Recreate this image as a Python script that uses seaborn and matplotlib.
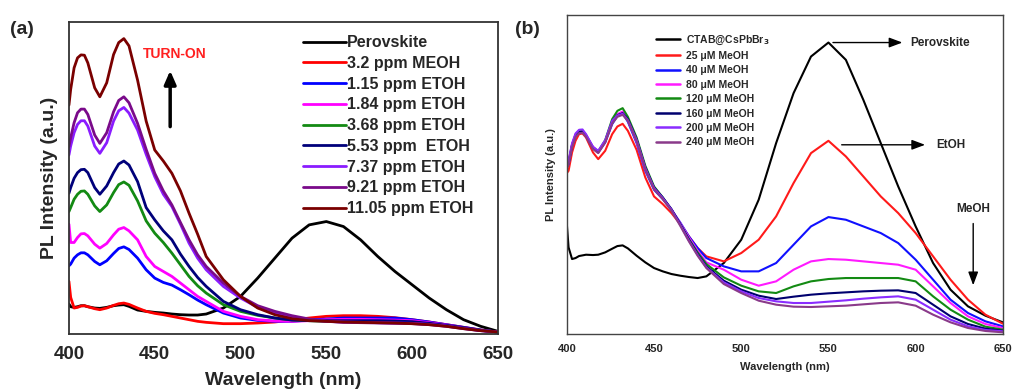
import numpy as np
import pandas as pd
import matplotlib
matplotlib.use("Agg")
import matplotlib.pyplot as plt
import seaborn as sns

# ---------------- data ----------------
wavelength = [400, 401, 403, 405, 407, 409, 411, 415, 418, 422, 426, 429, 432, 435, 440, 445, 450,
              455, 460, 465, 470, 475, 480, 490, 500, 510, 520, 530, 540, 550, 560, 570, 580, 590,
              600, 610, 620, 630, 640, 650]

# Panel (a)
a_labels = ["Perovskite", "3.2 ppm MEOH", "1.15 ppm ETOH", "1.84 ppm ETOH", "3.68 ppm ETOH",
            "5.53 ppm  ETOH", "7.37 ppm ETOH", "9.21 ppm ETOH", "11.05 ppm ETOH"]
a_colors = ["#000000", "#ff0000", "#0000ff", "#ff00ff", "#138a13", "#00007a", "#8a1cff",
            "#7a0a8a", "#7a0000"]
a_perovskite = [90, 82, 80, 82, 85, 85, 82, 78, 77, 80, 85, 87, 88, 83, 72, 68, 65, 63, 60, 58, 57,
                57, 60, 78, 113, 168, 228, 288, 328, 338, 323, 283, 233, 188, 148, 108, 73, 43, 23, 8]
a_meoh_3_2 = [158, 110, 78, 80, 84, 85, 82, 76, 73, 78, 86, 91, 93, 89, 78, 68, 62, 58, 53, 48, 43,
              38, 35, 31, 31, 33, 36, 42, 48, 53, 55, 55, 53, 49, 43, 36, 28, 20, 12, 6]
a_etoh_1_15 = [205, 210, 228, 238, 244, 244, 238, 218, 208, 220, 242, 257, 262, 254, 228, 193, 168,
               155, 147, 133, 118, 102, 88, 63, 48, 41, 38, 38, 42, 45, 48, 48, 48, 48, 43, 36, 28,
               20, 12, 6]
a_etoh_1_84 = [330, 275, 275, 290, 301, 302, 295, 270, 258, 272, 298, 315, 320, 310, 283, 233, 203,
               188, 173, 153, 133, 113, 98, 68, 53, 43, 39, 38, 40, 43, 44, 44, 43, 42, 40, 34, 27,
               19, 11, 6]
a_etoh_3_68 = [368, 380, 405, 420, 429, 430, 420, 385, 368, 388, 425, 449, 457, 447, 400, 340, 303,
               275, 243, 208, 173, 145, 123, 88, 68, 56, 48, 42, 40, 38, 37, 36, 36, 35, 34, 30, 25,
               18, 11, 6]
a_etoh_5_53 = [423, 440, 468, 485, 494, 495, 485, 440, 420, 445, 485, 511, 520, 508, 458, 380, 343,
               310, 283, 240, 203, 170, 143, 98, 73, 58, 48, 42, 40, 40, 40, 40, 40, 39, 37, 32, 26,
               19, 11, 6]
a_etoh_7_37 = [538, 565, 605, 630, 641, 641, 625, 565, 543, 575, 640, 671, 681, 664, 613, 540, 473,
               420, 383, 330, 273, 228, 193, 143, 108, 80, 63, 50, 42, 38, 36, 35, 34, 33, 32, 29, 24,
               17, 10, 6]
a_etoh_9_21 = [563, 590, 635, 665, 676, 676, 660, 598, 573, 605, 668, 702, 713, 695, 633, 555, 483,
               430, 388, 335, 283, 238, 203, 153, 113, 85, 68, 55, 45, 38, 35, 34, 33, 32, 31, 28, 23,
               16, 10, 6]
a_etoh_11_05 = [688, 735, 800, 830, 839, 838, 815, 740, 713, 755, 840, 876, 888, 866, 763, 640, 553,
                520, 483, 430, 363, 300, 233, 163, 113, 78, 58, 46, 40, 38, 36, 35, 34, 33, 31, 28,
                23, 16, 10, 6]

# Panel (b)
b_labels = ["CTAB@CsPbBr$_3$", "25 \u03bcM MeOH", "40 \u03bcM MeOH", "80 \u03bcM MeOH",
            "120 \u03bcM MeOH", "160 \u03bcM MeOH", "200 \u03bcM MeOH", "240 \u03bcM MeOH"]
b_colors = ["#000000", "#ff1a1a", "#1010ff", "#ff1aff", "#138a13", "#00006e", "#8a2cff", "#8a3a8a"]
b_ctab = [330, 260, 225, 228, 234, 236, 238, 237, 238, 245, 256, 264, 266, 257, 235, 215, 198, 188,
          180, 175, 171, 168, 173, 213, 283, 403, 573, 723, 833, 875, 823, 703, 573, 443, 323, 213,
          133, 83, 55, 35]
b_meoh_25 = [483, 490, 545, 580, 600, 602, 590, 545, 525, 550, 600, 623, 631, 610, 553, 470, 413, 390,
             363, 330, 293, 258, 233, 218, 243, 283, 353, 453, 543, 580, 533, 473, 413, 363, 303, 233,
             163, 103, 58, 31]
b_meoh_40 = [503, 510, 565, 595, 606, 607, 595, 560, 545, 575, 630, 655, 663, 637, 573, 490, 433, 405,
             373, 335, 293, 258, 228, 203, 188, 188, 213, 268, 323, 351, 343, 323, 303, 273, 223, 163,
             103, 63, 38, 23]
b_meoh_80 = [510, 520, 570, 600, 610, 611, 598, 562, 548, 578, 635, 660, 668, 642, 578, 495, 438, 408,
             373, 333, 290, 250, 215, 193, 163, 145, 158, 193, 218, 225, 223, 218, 213, 208, 193, 143,
             93, 53, 30, 18]
b_meoh_120 = [505, 515, 568, 598, 608, 609, 597, 560, 548, 582, 645, 670, 678, 652, 590, 505, 443, 410,
              373, 330, 285, 245, 210, 170, 145, 128, 123, 143, 158, 165, 168, 168, 168, 168, 158, 113,
              73, 43, 22, 13]
b_meoh_160 = [500, 512, 566, 596, 606, 607, 595, 558, 546, 578, 638, 657, 663, 645, 585, 500, 440, 410,
              375, 330, 283, 240, 203, 160, 133, 115, 105, 112, 118, 122, 125, 128, 130, 131, 123, 88,
              53, 30, 16, 10]
b_meoh_200 = [508, 520, 572, 602, 613, 614, 600, 562, 550, 582, 640, 656, 661, 642, 583, 498, 438, 408,
              373, 328, 280, 237, 200, 155, 128, 108, 98, 93, 93, 97, 101, 106, 110, 113, 103, 73, 43,
              23, 12, 8]
b_meoh_240 = [498, 508, 560, 592, 603, 604, 592, 555, 543, 575, 632, 652, 658, 640, 580, 495, 435, 405,
              370, 325, 278, 235, 198, 150, 123, 100, 88, 82, 81, 83, 85, 89, 93, 95, 85, 58, 35, 18,
              9, 5]

a_series = [a_perovskite, a_meoh_3_2, a_etoh_1_15, a_etoh_1_84, a_etoh_3_68, a_etoh_5_53,
            a_etoh_7_37, a_etoh_9_21, a_etoh_11_05]
b_series = [b_ctab, b_meoh_25, b_meoh_40, b_meoh_80, b_meoh_120, b_meoh_160, b_meoh_200, b_meoh_240]


def long_df(labels, series):
    rows = []
    for lab, ys in zip(labels, series):
        for x, y in zip(wavelength, ys):
            rows.append({"Wavelength": x, "PL": y, "Sample": lab})
    return pd.DataFrame(rows)


df_a = long_df(a_labels, a_series)
df_b = long_df(b_labels, b_series)

# ---------------- style ----------------
sns.set_style("white")
plt.rcParams['font.family'] = ['Liberation Sans', 'DejaVu Sans']
plt.rcParams['font.weight'] = 'bold'
plt.rcParams['mathtext.default'] = 'bf'
plt.rcParams['lines.solid_joinstyle'] = 'round'
plt.rcParams['lines.solid_capstyle'] = 'round'

fig = plt.figure(figsize=(10.14, 3.92), dpi=100)
ax_a = fig.add_axes([0.068, 0.148, 0.423, 0.796])
ax_b = fig.add_axes([0.559, 0.148, 0.430, 0.814])

# ---------------- panel (a) ----------------
sns.lineplot(data=df_a, x="Wavelength", y="PL", hue="Sample", hue_order=a_labels,
             palette=a_colors, sort=False, estimator=None, linewidth=2.0, ax=ax_a, legend=False)
ax_a.set_xlim(400, 650)
ax_a.set_ylim(0, 938)
ax_a.set_xticks([400, 450, 500, 550, 600, 650])
ax_a.set_yticks([])
ax_a.tick_params(axis='x', length=0, pad=9, labelsize=13.5)
for lab in ax_a.get_xticklabels():
    lab.set_fontweight('bold')
ax_a.set_xlabel("Wavelength (nm)", fontsize=14, fontweight='bold', labelpad=6)
ax_a.set_ylabel("PL Intensity (a.u.)", fontsize=14, fontweight='bold', labelpad=8)
for s in ax_a.spines.values():
    s.set_color('#333333')
    s.set_linewidth(1.3)

handles_a = [plt.Line2D([], [], color=c, lw=2.0) for c in a_colors]
leg_a = ax_a.legend(handles_a, a_labels, loc='upper left', bbox_to_anchor=(0.53, 0.978),
                    frameon=False, fontsize=11.5, handlelength=2.7, handletextpad=0.05,
                    labelspacing=0.36, borderaxespad=0)
for t in leg_a.get_texts():
    t.set_fontweight('bold')

ax_a.text(443, 843, "TURN-ON", color='#ff2020', fontsize=10, fontweight='bold', va='center')
ax_a.annotate("", xy=(459, 800), xytext=(459, 615),
              arrowprops=dict(arrowstyle='-|>,head_width=0.35,head_length=0.8', color='black', lw=2.5))
fig.text(0.010, 0.925, "(a)", fontsize=14, fontweight='bold', va='center')

# ---------------- panel (b) ----------------
sns.lineplot(data=df_b, x="Wavelength", y="PL", hue="Sample", hue_order=b_labels,
             palette=b_colors, sort=False, estimator=None, linewidth=1.5, ax=ax_b, legend=False)
ax_b.set_xlim(400, 650)
ax_b.set_ylim(0, 958)
ax_b.set_xticks([400, 450, 500, 550, 600, 650])
ax_b.set_yticks([])
ax_b.tick_params(axis='x', length=0, pad=7, labelsize=8)
for lab in ax_b.get_xticklabels():
    lab.set_fontweight('bold')
ax_b.set_xlabel("Wavelength (nm)", fontsize=8, fontweight='bold', labelpad=6)
ax_b.set_ylabel("PL Intensity (a.u.)", fontsize=8, fontweight='bold', labelpad=8)
for s in ax_b.spines.values():
    s.set_color('#444444')
    s.set_linewidth(1.0)

handles_b = [plt.Line2D([], [], color=c, lw=1.8) for c in b_colors]
leg_b = ax_b.legend(handles_b, b_labels, loc='upper left', bbox_to_anchor=(0.195, 0.955),
                    frameon=False, fontsize=7.5, handlelength=2.3, handletextpad=0.55,
                    labelspacing=0.42, borderaxespad=0)
for t in leg_b.get_texts():
    t.set_fontweight('bold')

ax_b.annotate("", xy=(594, 875), xytext=(551, 875),
              arrowprops=dict(arrowstyle='-|>,head_width=0.3,head_length=0.8', color='black', lw=1.0))
ax_b.text(597, 875, "Perovskite", fontsize=8.5, fontweight='bold', va='center')
ax_b.annotate("", xy=(607, 568), xytext=(556, 568),
              arrowprops=dict(arrowstyle='-|>,head_width=0.3,head_length=0.8', color='black', lw=1.0))
ax_b.text(612, 568, "EtOH", fontsize=8.5, fontweight='bold', va='center')
ax_b.text(633, 375, "MeOH", fontsize=8.5, fontweight='bold', va='center', ha='center')
ax_b.annotate("", xy=(633, 138), xytext=(633, 340),
              arrowprops=dict(arrowstyle='-|>,head_width=0.3,head_length=0.8', color='black', lw=1.0))
fig.text(0.508, 0.925, "(b)", fontsize=14, fontweight='bold', va='center')

fig.savefig("out.png", dpi=100)
